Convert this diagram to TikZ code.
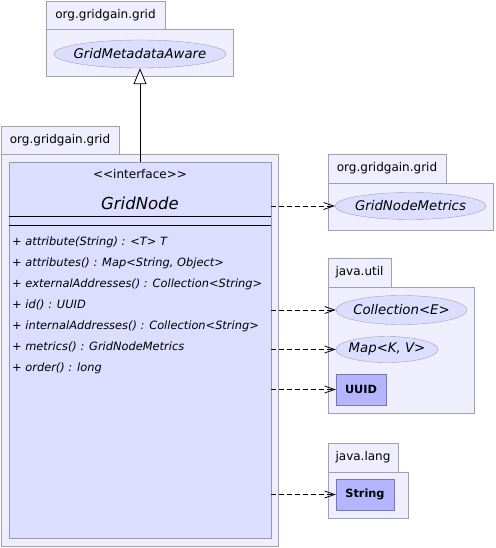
\documentclass[tikz,border=0pt]{standalone}
\usepackage{fontspec}
\setmainfont{DejaVu Sans}
\usetikzlibrary{shapes.geometric,arrows.meta}

\definecolor{pkgfill}{RGB}{238,238,252}
\definecolor{pkgline}{RGB}{160,160,176}
\definecolor{clsfill}{RGB}{221,221,255}
\definecolor{clsline}{RGB}{150,150,172}
\definecolor{boxfill}{RGB}{180,180,255}
\definecolor{boxline}{RGB}{120,120,170}

\begin{document}
\begin{tikzpicture}[x=1pt, y=-1pt,
        pkg/.style={draw=pkgline, fill=pkgfill, line width=0.8pt},
        pkglabel/.style={inner sep=0pt, font=\fontsize{12}{14}\selectfont},
        iface/.style={ellipse, draw=pkgline, fill=clsfill, inner sep=0pt, font=\fontsize{13.3}{16}\selectfont\itshape},
        cls/.style={draw=boxline, fill=boxfill, inner sep=0pt, font=\fontsize{11.3}{13}\selectfont\bfseries},
        member/.style={anchor=west, inner sep=0pt, text height=9pt, text depth=3pt, font=\fontsize{11.4}{13}\selectfont\itshape},
        dep/.style={densely dashed, dash pattern=on 5pt off 3pt, line width=0.8pt, -{Straight Barb[length=10pt, width=7pt]}},
        gen/.style={line width=0.8pt, -{Triangle[open, length=16pt, width=13pt, fill=white]}}]
    \useasboundingbox (0,0) rectangle (495,548);

    % Pacchetti
    \foreach \n/\lab/\xa/\ya/\xt/\yt/\xb/\yb in {
            pa/org.gridgain.grid/46/1/165/29/233/76,
            pb/org.gridgain.grid/1/126/119/154/278/546,
            pc/org.gridgain.grid/328/154/446/183/493/230,
            pd/java.util/328/258/391/287/474/413,
            pe/java.lang/328/443/398/472/408/518} {
            \draw[pkg] (\xa,\ya) rectangle (\xt,\yt);
            \draw[pkg] (\xa,\yt) rectangle (\xb,\yb);
            \node[pkglabel] (\n) at ({(\xa+\xt)/2},{(\ya+\yt)/2}) {\lab};
        }

    % Classe GridNode
    \node[draw=clsline, fill=clsfill, line width=0.8pt, minimum width=262pt, minimum height=376pt, inner sep=0pt] (gridnode) at (140,350) {};
    \node[pkglabel] (stereo) at (140,174) {<\kern0pt<interface>\kern0pt>};
    \node[inner sep=0pt, font=\fontsize{16.5}{19}\selectfont\itshape] (title) at (140,203) {GridNode};
    \draw[line width=0.8pt] (gridnode.west |- 0,216) -- (gridnode.east |- 0,216);
    \draw[line width=0.8pt] (gridnode.west |- 0,225) -- (gridnode.east |- 0,225);

    % Metodi
    \foreach \i/\m in {0/{+ attribute(String) : <T> T},
            1/{+ attributes() : Map<String, Object>},
            2/{+ externalAddresses() : Collection<String>},
            3/{+ id() : UUID},
            4/{+ internalAddresses() : Collection<String>},
            5/{+ metrics() : GridNodeMetrics},
            6/{+ order() : long}} {
            \node[member] (m\i) at (12,{242+21*\i}) {\m};
        }

    % Interfacce e classi
    \node[iface, minimum width=172pt, minimum height=28pt] (aware) at (140,54) {\makebox[0pt]{GridMetadataAware}};
    \node[iface, minimum width=151pt, minimum height=27pt] (metrics) at (410.5,206) {\makebox[0pt]{GridNodeMetrics}};
    \node[iface, minimum width=131pt, minimum height=29pt] (collection) at (401.5,310) {\makebox[0pt]{Collection<E>}};
    \node[iface, minimum width=102pt, minimum height=26pt] (map) at (387,349.5) {\makebox[0pt]{Map<K, V>}};
    \node[cls, minimum width=50pt, minimum height=31pt] (uuid) at (361,389.5) {UUID};
    \node[cls, minimum width=58pt, minimum height=31pt] (string) at (365,494.5) {String};

    % Archi
    \draw[gen] (gridnode.north) -- (aware.south);
    \foreach \t in {metrics, collection, map, uuid, string} {
            \draw[dep] (gridnode.east |- \t.west) -- (\t.west);
        }
\end{tikzpicture}
\end{document}
